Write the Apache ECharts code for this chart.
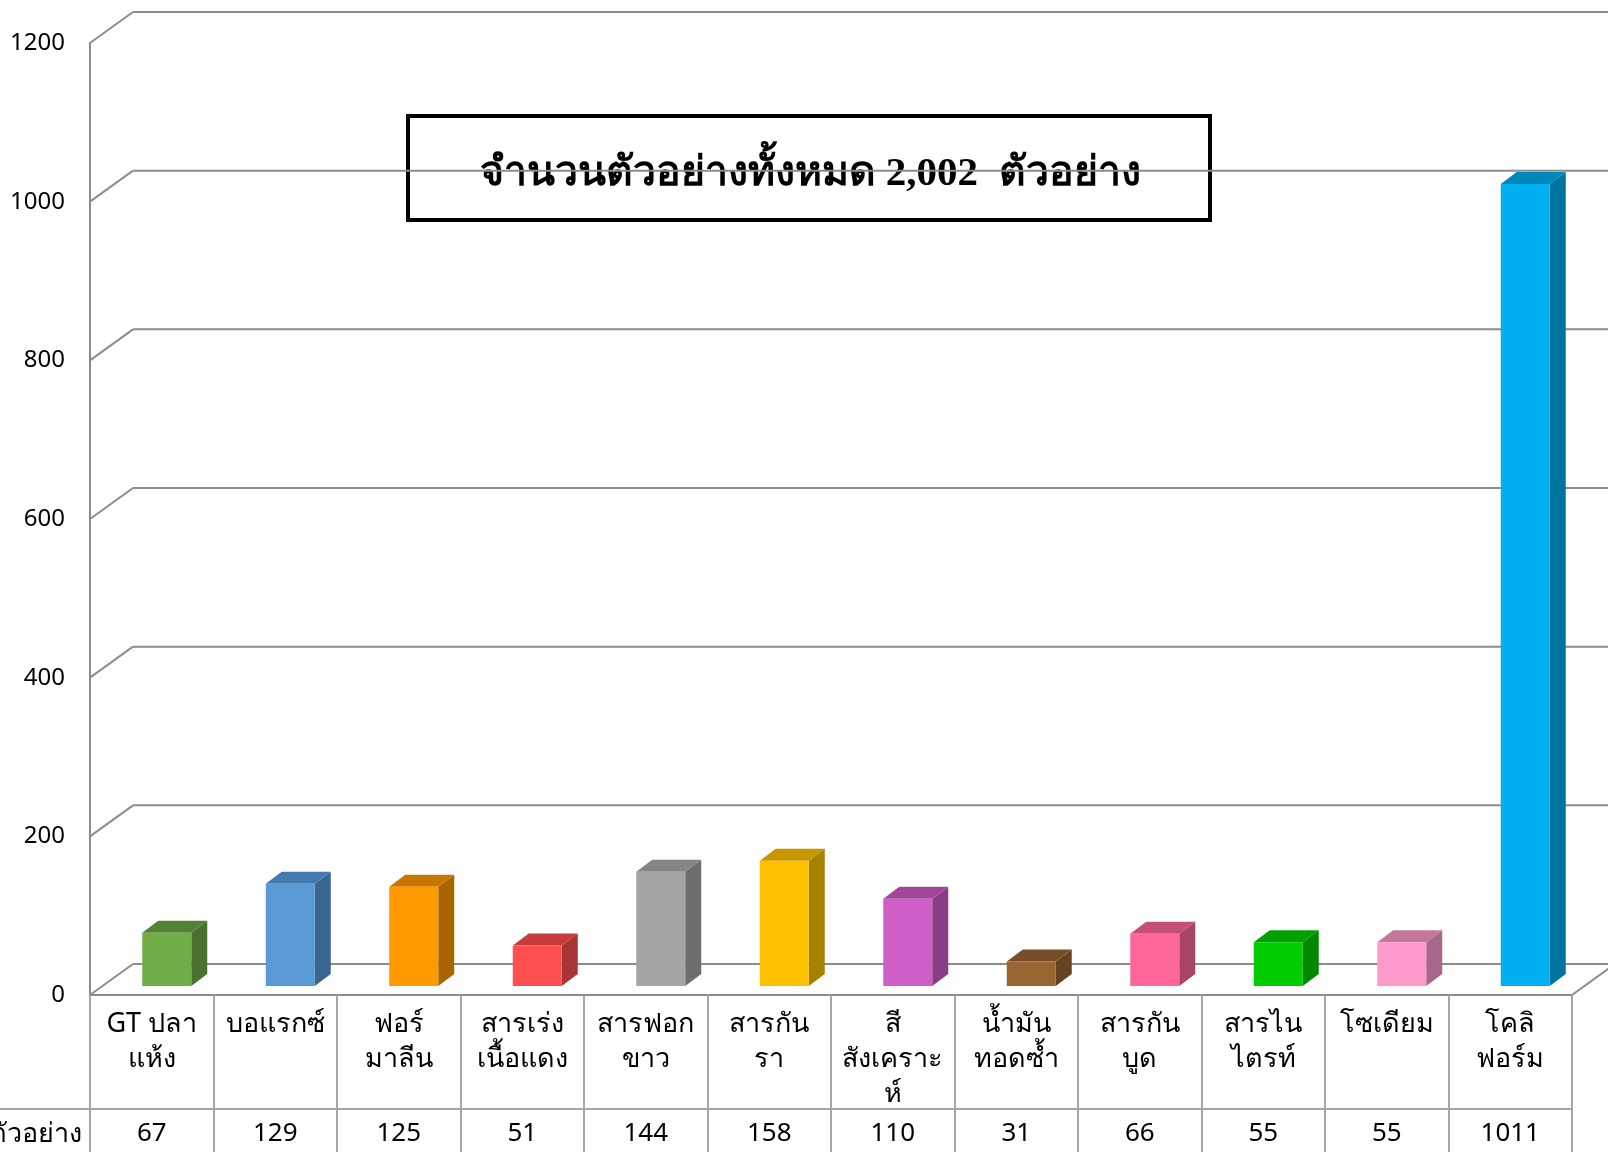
<!DOCTYPE html>
<html>
<head>
<meta charset="utf-8">
<script src="https://cdn.jsdelivr.net/npm/echarts@6/dist/echarts.min.js"></script>
<style>
  html, body { margin: 0; padding: 0; background: #fff; }
  #chart { width: 1608px; height: 1152px; }
</style>
</head>
<body>
<div id="chart"></div>
<script>
// ข้อมูล
const categories = ['GT ปลา\nแห้ง', 'บอแรกซ์', 'ฟอร์\nมาลีน', 'สารเร่ง\nเนื้อแดง', 'สารฟอก\nขาว', 'สารกัน\nรา',
  'สี\nสังเคราะ\nห์', 'น้ำมัน\nทอดซ้ำ', 'สารกัน\nบูด', 'สารไน\nไตรท์', 'โซเดียม', 'โคลิ\nฟอร์ม']
const counts = [67, 129, 125, 51, 144, 158, 110, 31, 66, 55, 55, 1011]
const yTicks = [0, 200, 400, 600, 800, 1000, 1200]
const rowName = 'ตัวอย่าง'
const title = 'จำนวนตัวอย่างทั้งหมด 2,002  ตัวอย่าง'

// สีแท่ง (หน้า / ข้าง / บน)
const faceColors = ['#70ad47', '#5b9bd5', '#ff9900', '#ff5050', '#a5a5a5', '#ffc000', '#cf5fc6', '#996633', '#ff6699', '#00cc00', '#ff99cc', '#00b0f0']
const sideColors = ['#4a7130', '#3a6690', '#a86400', '#a83434', '#6d6d6d', '#a88000', '#883d84', '#654322', '#a84465', '#008800', '#a86688', '#00749f']
const topColors = ['#548235', '#4479b0', '#c77700', '#c43c3c', '#858585', '#c79600', '#a0479b', '#774e27', '#c4507a', '#00a000', '#c47799', '#0088bb']

const font = '"Noto Sans", "DejaVu Sans", sans-serif'
const wallColor = '#8c8c8c'
const tableColor = '#a6a6a6'
const depthX = 43, depthY = -31

function renderWall(params, api) {
  const v = api.value(1)
  const p = api.coord([0, v])
  const band = api.size([1, 0])[0]
  const left = p[0] - band / 2
  const right = api.coord([categories.length - 1, v])[0] + band / 2
  const y = p[1]
  const style = { stroke: wallColor, lineWidth: 2 }
  const children = [
    { type: 'line', shape: { x1: left, y1: y, x2: left + depthX, y2: y + depthY }, style },
    { type: 'line', shape: { x1: left + depthX, y1: y + depthY, x2: right + 80, y2: y + depthY }, style }
  ]
  if (v === 0) {
    children.push({ type: 'line', shape: { x1: right, y1: y, x2: right + depthX, y2: y + depthY }, style })
  }
  return { type: 'group', children }
}

function renderBar(params, api) {
  const i = api.value(0)
  const v = api.value(1)
  const top = api.coord([i, v])
  const base = api.coord([i, 0])
  const bw = 49, ox = 15, oy = -9, dx = 16, dy = -12
  const x0 = top[0] - bw / 2 + ox, x1 = x0 + bw
  const yt = top[1] + oy, yb = base[1] + oy
  return {
    type: 'group',
    children: [
      { type: 'polygon', shape: { points: [[x1, yt], [x1 + dx, yt + dy], [x1 + dx, yb + dy], [x1, yb]] }, style: { fill: sideColors[i] } },
      { type: 'polygon', shape: { points: [[x0, yt], [x0 + dx, yt + dy], [x1 + dx, yt + dy], [x1, yt]] }, style: { fill: topColors[i] } },
      { type: 'polygon', shape: { points: [[x0, yt], [x1, yt], [x1, yb], [x0, yb]] }, style: { fill: faceColors[i] } }
    ]
  }
}

const chart = echarts.init(document.getElementById('chart'))
chart.setOption({
  animation: false,
  backgroundColor: '#fff',
  textStyle: { fontFamily: font },
  grid: { left: 90, right: 36, top: 43, bottom: 157 },
  xAxis: [
    {
      type: 'category',
      data: categories,
      axisLine: { show: true, lineStyle: { color: wallColor, width: 2 } },
      axisTick: { show: true, interval: 0, length: 170, lineStyle: { color: tableColor, width: 2 } },
      axisLabel: { interval: 0, color: '#000', fontSize: 27, lineHeight: 35, verticalAlign: 'top', margin: 12, fontFamily: font }
    },
    {
      type: 'category',
      data: categories,
      position: 'bottom',
      axisLine: { show: false },
      axisTick: { show: false },
      axisLabel: {
        interval: 0, color: '#000', fontSize: 26, verticalAlign: 'middle', margin: 139, fontFamily: font,
        formatter: (val, idx) => String(counts[idx])
      }
    }
  ],
  yAxis: {
    type: 'value',
    min: 0,
    max: 1200,
    interval: 200,
    axisLine: { show: true, lineStyle: { color: wallColor, width: 2 } },
    axisTick: { show: false },
    splitLine: { show: false },
    axisLabel: { color: '#000', fontSize: 24, margin: 25, fontFamily: font, formatter: v => String(v) }
  },
  graphic: [
    { type: 'line', shape: { x1: 0, y1: 1109, x2: 1572, y2: 1109 }, style: { stroke: tableColor, lineWidth: 2 }, z: 10 },
    { type: 'text', x: 82, y: 1134, style: { text: rowName, align: 'right', verticalAlign: 'middle', fill: '#000', font: '27px ' + font }, z: 10 },
    {
      type: 'group', z: 20,
      children: [
        { type: 'rect', shape: { x: 408, y: 116, width: 802, height: 104 }, style: { fill: '#fff', stroke: '#000', lineWidth: 4 } },
        { type: 'text', x: 810, y: 174, style: { text: title, align: 'center', verticalAlign: 'middle', fill: '#000', font: 'bold 41px "Liberation Serif", "DejaVu Serif", serif' } }
      ]
    }
  ],
  series: [
    {
      type: 'custom',
      name: 'walls',
      renderItem: renderWall,
      data: yTicks.map(v => [0, v]),
      z: 1,
      silent: true
    },
    {
      type: 'custom',
      name: 'ตัวอย่าง',
      renderItem: renderBar,
      data: counts.map((v, i) => [i, v]),
      z: 5
    }
  ]
})
</script>
</body>
</html>
